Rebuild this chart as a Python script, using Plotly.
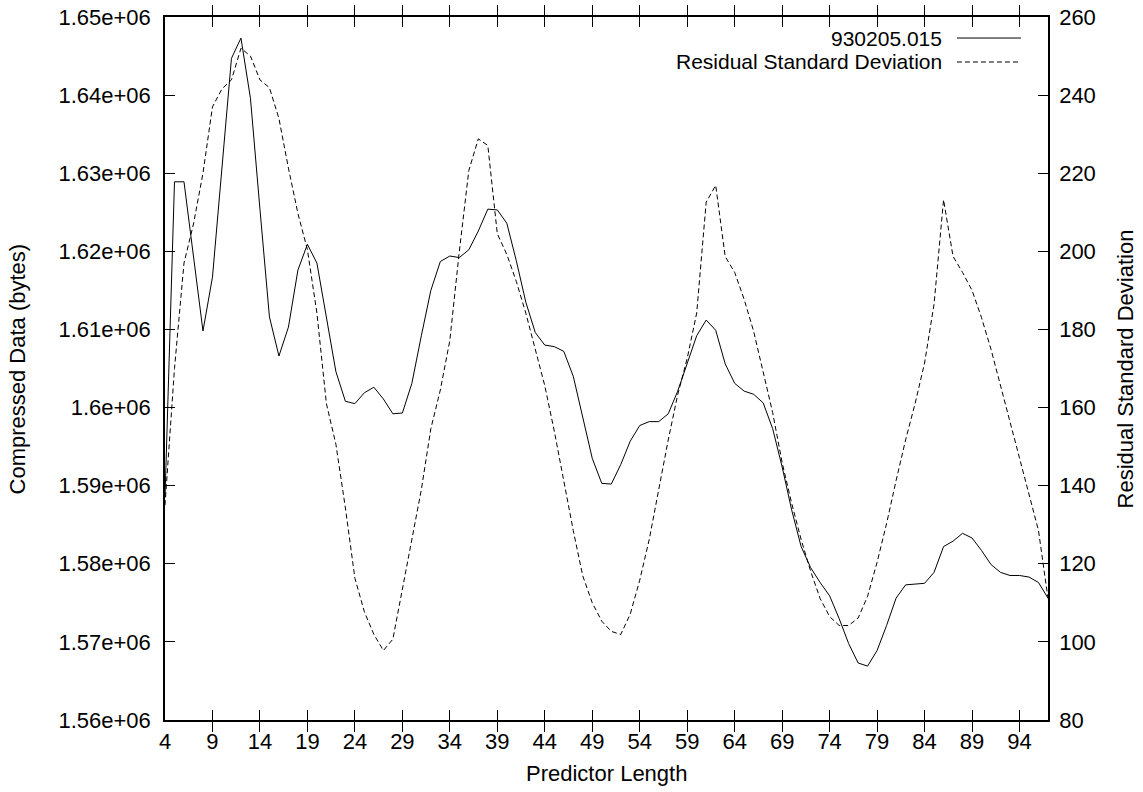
import plotly.graph_objects as go

# Predictor length (x) and the two measured series
predictor_length = list(range(4, 98))

compressed_bytes = [
    1588500, 1628900, 1628900, 1619000, 1609800, 1616700, 1631200, 1644700,
    1647300, 1639600, 1625400, 1611600, 1606600, 1610300, 1617600, 1620900,
    1618500, 1611600, 1604600, 1600800, 1600500, 1601900, 1602600, 1601100,
    1599200, 1599300, 1603100, 1609200, 1615000, 1618700, 1619400, 1619200,
    1620200, 1622600, 1625400, 1625300, 1623600, 1618800, 1613500, 1609600,
    1608000, 1607800, 1607200, 1604000, 1598800, 1593500, 1590300, 1590200,
    1592700, 1595700, 1597700, 1598200, 1598200, 1599200, 1602100, 1605700,
    1609200, 1611200, 1609900, 1605600, 1603100, 1602100, 1601700, 1600600,
    1597300, 1592400, 1586900, 1582200, 1579500, 1577600, 1575900, 1573000,
    1569800, 1567300, 1566900, 1568900, 1572100, 1575600, 1577300, 1577400,
    1577500, 1578900, 1582200, 1582900, 1583900, 1583300, 1581700, 1579900,
    1578900, 1578500, 1578500, 1578300, 1577600, 1575600,
]

residual_std = [
    135.0, 170.0, 197.0, 207.0, 220.0, 237.0, 241.6, 243.9,
    252.0, 250.0, 243.9, 241.9, 234.0, 221.3, 209.7, 200.4,
    184.2, 161.0, 150.6, 134.3, 116.3, 107.7, 101.9, 97.8,
    100.7, 113.4, 126.2, 139.0, 154.6, 164.5, 177.2, 200.0,
    220.7, 228.8, 227.1, 204.5, 199.2, 192.3, 184.2, 174.9,
    165.6, 154.0, 141.3, 128.5, 116.9, 110.0, 105.3, 102.7,
    101.9, 107.1, 115.8, 126.2, 139.0, 151.7, 163.3, 172.6,
    184.2, 212.6, 216.9, 198.7, 194.6, 187.7, 179.5, 169.1,
    158.7, 145.9, 135.5, 126.2, 118.1, 111.1, 106.5, 104.2,
    104.2, 106.1, 111.7, 120.4, 130.3, 141.3, 151.7, 161.0,
    171.4, 186.5, 213.2, 198.7, 194.6, 190.0, 183.0, 174.9,
    165.6, 156.3, 147.0, 137.8, 128.5, 111.1,
]

# Axis ticks
x_ticks = list(range(4, 95, 5))
y1_tick_values = [1560000, 1570000, 1580000, 1590000, 1600000,
                  1610000, 1620000, 1630000, 1640000, 1650000]
y1_tick_labels = ["1.56e+06", "1.57e+06", "1.58e+06", "1.59e+06", "1.6e+06",
                  "1.61e+06", "1.62e+06", "1.63e+06", "1.64e+06", "1.65e+06"]
y2_tick_values = list(range(80, 261, 20))

series_names = ["930205.015", "Residual Standard Deviation"]

FONT = "Liberation Sans, Arial, Helvetica, sans-serif"
FS = 22
KEY_FS = 21
DASH = "5px,3px"

fig = go.Figure()
fig.add_trace(go.Scatter(
    x=predictor_length, y=compressed_bytes, mode="lines",
    line=dict(color="black", width=1), name=series_names[0],
    yaxis="y", showlegend=False,
))
fig.add_trace(go.Scatter(
    x=predictor_length, y=residual_std, mode="lines",
    line=dict(color="black", width=1, dash=DASH), name=series_names[1],
    yaxis="y2", showlegend=False,
))

axis_common = dict(
    showgrid=False, zeroline=False, showline=True, linecolor="black",
    linewidth=1.5, ticks="inside", ticklen=10, tickwidth=1,
    tickcolor="black", automargin=False,
    tickfont=dict(family=FONT, size=FS, color="black"),
)

fig.update_layout(
    width=1143, height=792,
    margin=dict(l=165, r=95, t=17, b=72, autoexpand=False),
    paper_bgcolor="white", plot_bgcolor="white",
    font=dict(family=FONT, size=FS, color="black"),
    showlegend=False,
    xaxis=dict(range=[4, 97], tickmode="array", tickvals=x_ticks,
               mirror="allticks", ticklabelstandoff=1, **axis_common),
    yaxis=dict(range=[1560000, 1650000], tickmode="array",
               tickvals=y1_tick_values, ticktext=y1_tick_labels,
               ticklabelstandoff=8, **axis_common),
    yaxis2=dict(range=[80, 260], tickmode="array", tickvals=y2_tick_values,
                overlaying="y", side="right", ticklabelstandoff=5,
                **axis_common),
    hovermode=False,
)

# Axis titles
fig.add_annotation(text="Predictor Length", xref="paper", yref="paper",
                   x=0.5, y=-0.0754, showarrow=False,
                   xanchor="center", yanchor="middle",
                   font=dict(family=FONT, size=FS))
fig.add_annotation(text="Compressed Data (bytes)", xref="paper", yref="paper",
                   x=-0.1665, y=0.5, textangle=-90, showarrow=False,
                   xanchor="center", yanchor="middle",
                   font=dict(family=FONT, size=FS))
fig.add_annotation(text="Residual Standard Deviation", xref="paper",
                   yref="paper", x=1.0883, y=0.5, textangle=-90,
                   showarrow=False, xanchor="center", yanchor="middle",
                   font=dict(family=FONT, size=FS))

# Key in the top-right corner: right-aligned label followed by a line sample
key_rows = [(series_names[0], 0.9701, "solid"),
            (series_names[1], 0.9360, DASH)]
for label, ky, dash in key_rows:
    fig.add_annotation(text=label, xref="paper", yref="paper", x=0.8811,
                       y=ky, showarrow=False, xanchor="right",
                       yanchor="middle", borderpad=0,
                       font=dict(family=FONT, size=KEY_FS))
    fig.add_shape(type="line", xref="paper", yref="paper",
                  x0=0.8969, x1=0.9694, y0=ky, y1=ky,
                  line=dict(color="black", width=1, dash=dash))

fig.write_html("out.html", config={"displayModeBar": False})
